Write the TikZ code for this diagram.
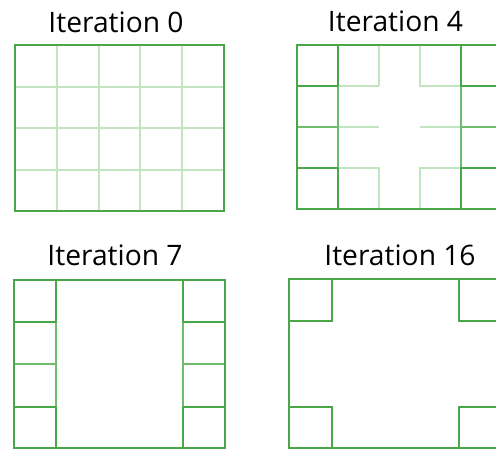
\documentclass[tikz,border=0pt]{standalone}
\usepackage{fontspec}
\setmainfont{Open Sans}
\definecolor{gdark}{RGB}{72,168,72}
\definecolor{gmid}{RGB}{110,188,110}
\definecolor{glight}{RGB}{192,229,192}
\tikzset{
  title/.style={anchor=base, inner sep=0pt, font=\fontsize{28.3}{30}\selectfont},
  dk/.style={draw=gdark, line width=2bp},
  md/.style={draw=gmid, line width=2bp},
  lt/.style={draw=glight, line width=2bp},
}
\begin{document}
\begin{tikzpicture}[x=1bp,y=-1bp]
\useasboundingbox (0,0) rectangle (496,450);
% titles
\node[title] (t0) at (116,33) {Iteration 0};
\node[title] (t4) at (395.5,32) {Iteration 4};
\node[title] (t7) at (115,265.5) {Iteration 7};
\node[title] (t16) at (400,265) {Iteration 16};

% ---------- Iteration 0 ----------
\foreach \x in {57,99,140,182} \draw[lt] (\x,45) -- (\x,211);
\foreach \y in {87,128,170} \draw[lt] (15,\y) -- (224,\y);
\draw[dk] (15,45) rectangle (224,211);

% ---------- Iteration 4 ----------
\begin{scope}
\clip (0,0) rectangle (496,450);
% light interior pieces
\draw[lt] (338,86) -- (379,86) (379,45) -- (379,86);
\draw[lt] (420,45) -- (420,86) -- (461,86);
\draw[lt] (338,127) -- (379,127) (420,127) -- (461,127);
\draw[lt] (338,168) -- (379,168) -- (379,209);
\draw[lt] (461,168) -- (420,168) -- (420,209);
% medium pieces
\draw[md] (338,86) -- (338,168) (461,86) -- (461,168);
\draw[md] (297,127) -- (338,127) (461,127) -- (503,127);
% dark pieces
\draw[dk] (297,86) -- (338,86) (338,45) -- (338,86);
\draw[dk] (297,168) -- (338,168) (338,168) -- (338,209);
\draw[dk] (461,45) -- (461,86) -- (503,86);
\draw[dk] (461,209) -- (461,168) -- (503,168);
\draw[dk] (297,45) rectangle (503,209);
\end{scope}

% ---------- Iteration 7 ----------
\draw[md] (56,322) -- (56,407) (183,322) -- (183,407);
\draw[md] (14,364) -- (56,364) (183,364) -- (225,364);
\draw[dk] (14,322) -- (56,322) (14,407) -- (56,407);
\draw[dk] (183,322) -- (225,322) (183,407) -- (225,407);
\draw[dk] (56,280) -- (56,322) (56,407) -- (56,448);
\draw[dk] (183,280) -- (183,322) (183,407) -- (183,448);
\draw[dk] (14,280) rectangle (225,448);

% ---------- Iteration 16 ----------
\begin{scope}
\clip (0,0) rectangle (496,450);
\draw[dk] (289,321) -- (332,321) -- (332,279);
\draw[dk] (289,407) -- (332,407) -- (332,448);
\draw[dk] (503,321) -- (459,321) -- (459,279);
\draw[dk] (503,407) -- (459,407) -- (459,448);
\draw[dk] (289,279) rectangle (503,448);
\end{scope}
\end{tikzpicture}
\end{document}
